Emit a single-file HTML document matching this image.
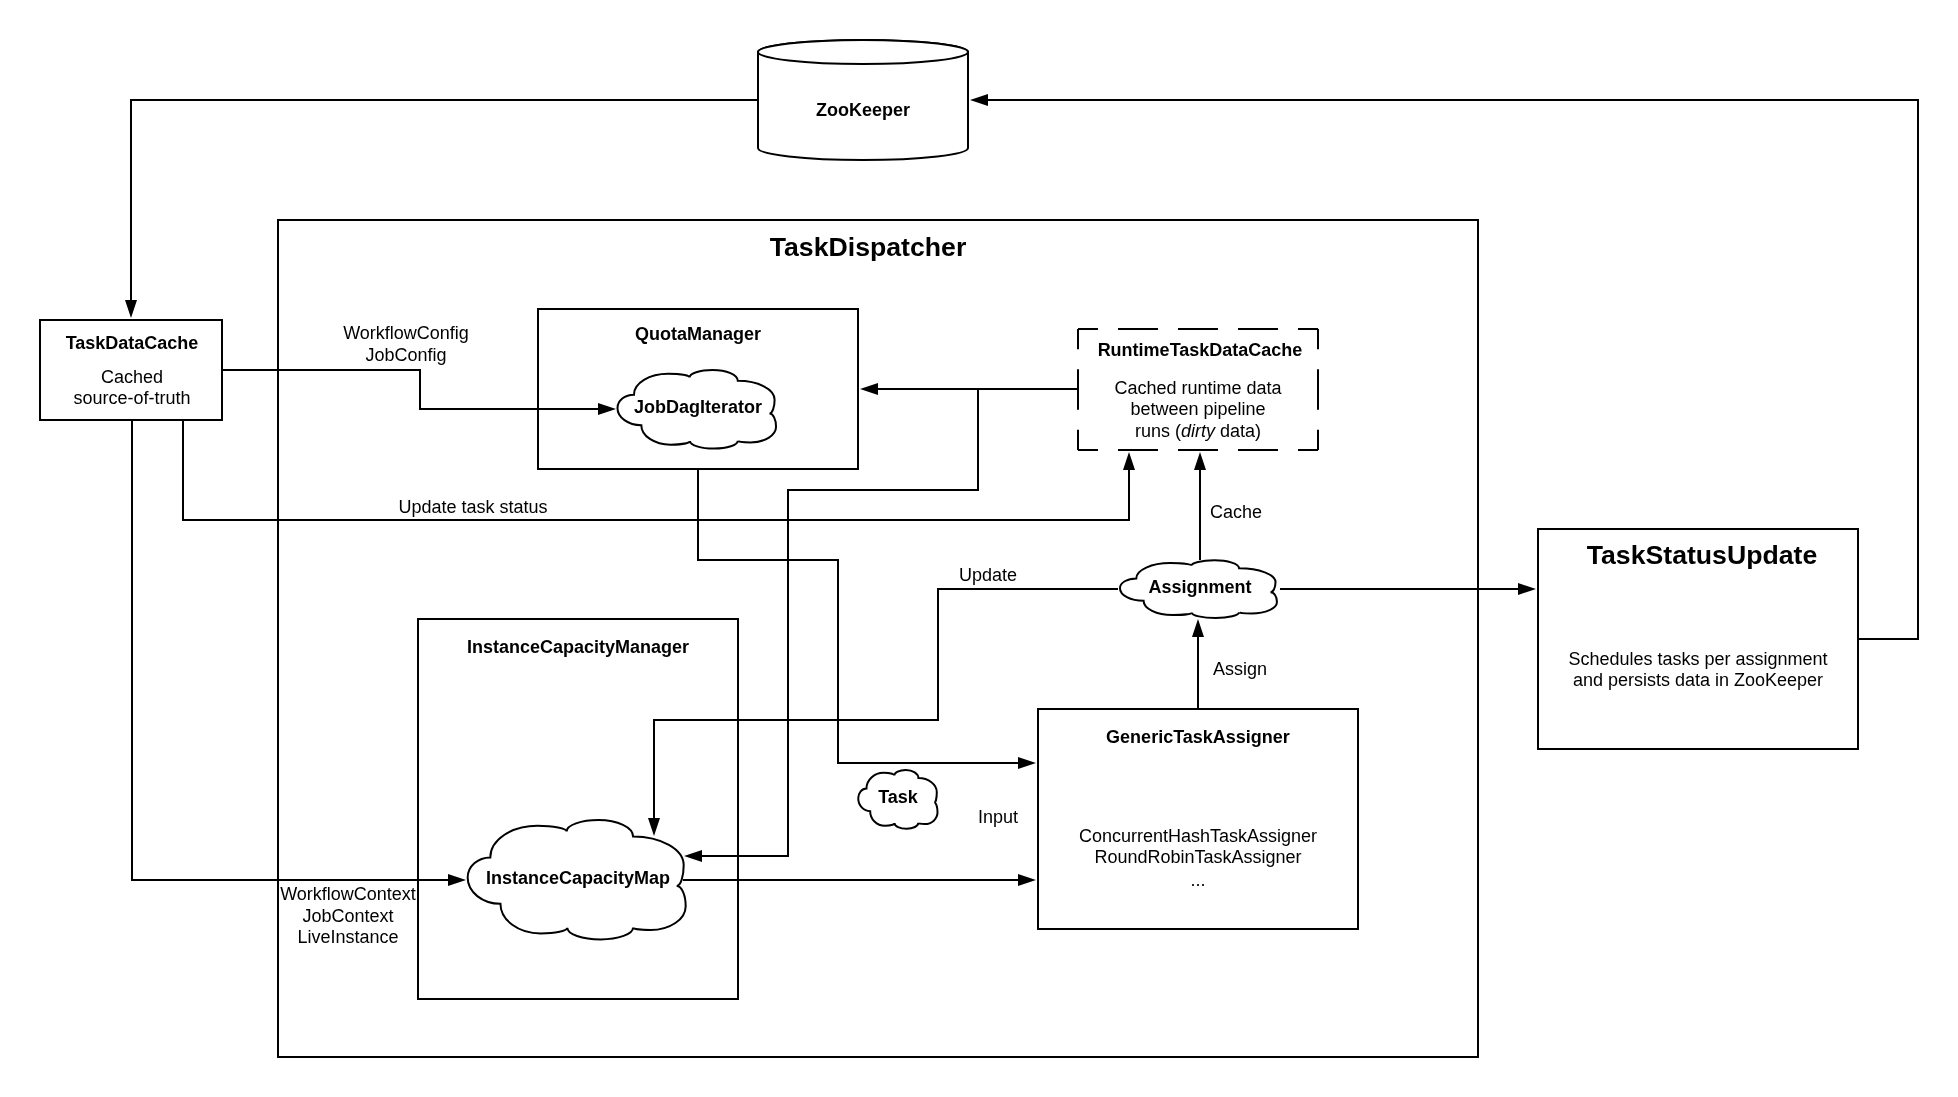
<!DOCTYPE html>
<html><head><meta charset="utf-8"><style>
html,body{margin:0;padding:0;background:#fff;width:1958px;height:1097px;overflow:hidden}
svg{display:block;font-family:"Liberation Sans",sans-serif;will-change:transform}
</style></head><body>
<svg width="1958" height="1097" viewBox="0 0 1958 1097">
<rect x="0" y="0" width="1958" height="1097" fill="#fff"/>
<rect x="278" y="220" width="1200" height="837" fill="#fff" stroke="#000" stroke-width="2"/>
<rect x="40" y="320" width="182" height="100" fill="#fff" stroke="#000" stroke-width="2"/>
<rect x="538" y="309" width="320" height="160" fill="#fff" stroke="#000" stroke-width="2"/>
<rect x="418" y="619" width="320" height="380" fill="#fff" stroke="#000" stroke-width="2"/>
<rect x="1038" y="709" width="320" height="220" fill="#fff" stroke="#000" stroke-width="2"/>
<rect x="1538" y="529" width="320" height="220" fill="#fff" stroke="#000" stroke-width="2"/>
<rect x="1078" y="329" width="240" height="121" fill="#fff" stroke="none"/><line x1="1078" y1="329" x2="1318" y2="329" stroke="#000" stroke-width="2" stroke-dasharray="40 20" stroke-dashoffset="20"/><line x1="1318" y1="329" x2="1318" y2="450" stroke="#000" stroke-width="2" stroke-dasharray="40.33 20.17" stroke-dashoffset="20.17"/><line x1="1318" y1="450" x2="1078" y2="450" stroke="#000" stroke-width="2" stroke-dasharray="40 20" stroke-dashoffset="20"/><line x1="1078" y1="450" x2="1078" y2="329" stroke="#000" stroke-width="2" stroke-dasharray="40.33 20.17" stroke-dashoffset="20.17"/>
<path d="M758 52 L758 148 A105 12 0 0 0 968 148 L968 52 A105 12 0 0 0 758 52 Z" fill="#fff" stroke="#000" stroke-width="2"/><ellipse cx="863" cy="52" rx="105" ry="12" fill="#fff" stroke="#000" stroke-width="2"/>
<path d="M758 100 L131 100 L131 302" fill="none" stroke="#000" stroke-width="2" stroke-linejoin="miter" stroke-linecap="butt"/>
<path d="M131 318 L125 300 L137 300 Z" fill="#000" stroke="none"/>
<path d="M1858 639 L1918 639 L1918 100 L986 100" fill="none" stroke="#000" stroke-width="2" stroke-linejoin="miter" stroke-linecap="butt"/>
<path d="M970 100 L988 94 L988 106 Z" fill="#000" stroke="none"/>
<path d="M222 370 L420 370 L420 409 L600 409" fill="none" stroke="#000" stroke-width="2" stroke-linejoin="miter" stroke-linecap="butt"/>
<path d="M616 409 L598 403 L598 415 Z" fill="#000" stroke="none"/>
<path d="M183 420 L183 520 L1129 520 L1129 468" fill="none" stroke="#000" stroke-width="2" stroke-linejoin="miter" stroke-linecap="butt"/>
<path d="M1129 452 L1123 470 L1135 470 Z" fill="#000" stroke="none"/>
<path d="M132 420 L132 880 L450 880" fill="none" stroke="#000" stroke-width="2" stroke-linejoin="miter" stroke-linecap="butt"/>
<path d="M466 880 L448 874 L448 886 Z" fill="#000" stroke="none"/>
<path d="M1078 389 L876 389" fill="none" stroke="#000" stroke-width="2" stroke-linejoin="miter" stroke-linecap="butt"/>
<path d="M860 389 L878 383 L878 395 Z" fill="#000" stroke="none"/>
<path d="M978 389 L978 490 L788 490 L788 856 L700 856" fill="none" stroke="#000" stroke-width="2" stroke-linejoin="miter" stroke-linecap="butt"/>
<path d="M684 856 L702 850 L702 862 Z" fill="#000" stroke="none"/>
<path d="M698 469 L698 560 L838 560 L838 763 L1020 763" fill="none" stroke="#000" stroke-width="2" stroke-linejoin="miter" stroke-linecap="butt"/>
<path d="M1036 763 L1018 757 L1018 769 Z" fill="#000" stroke="none"/>
<path d="M683 880 L1020 880" fill="none" stroke="#000" stroke-width="2" stroke-linejoin="miter" stroke-linecap="butt"/>
<path d="M1036 880 L1018 874 L1018 886 Z" fill="#000" stroke="none"/>
<path d="M1198 709 L1198 634" fill="none" stroke="#000" stroke-width="2" stroke-linejoin="miter" stroke-linecap="butt"/>
<path d="M1198 619 L1192 637 L1204 637 Z" fill="#000" stroke="none"/>
<path d="M1200 560 L1200 468" fill="none" stroke="#000" stroke-width="2" stroke-linejoin="miter" stroke-linecap="butt"/>
<path d="M1200 452 L1194 470 L1206 470 Z" fill="#000" stroke="none"/>
<path d="M1118 589 L938 589 L938 720 L654 720 L654 820" fill="none" stroke="#000" stroke-width="2" stroke-linejoin="miter" stroke-linecap="butt"/>
<path d="M654 836 L648 818 L660 818 Z" fill="#000" stroke="none"/>
<path d="M1280 589 L1520 589" fill="none" stroke="#000" stroke-width="2" stroke-linejoin="miter" stroke-linecap="butt"/>
<path d="M1536 589 L1518 583 L1518 595 Z" fill="#000" stroke="none"/>
<path d="M641.32 425.14 C628.16 425.14 617.48 417.43 617.48 407.92 C617.48 400.59 624.86 394.65 633.96 394.65 C633.96 383.14 649.3 373.79 668.2 373.79 C679.95 373.79 689.48 375.46 689.48 377.5 C689.48 373.36 699.87 370 712.68 370 C726.55 370 737.8 374.85 737.8 380.82 C758.11 380.82 774.6 389.28 774.6 399.7 C774.6 407.29 772.31 413.45 769.48 413.45 C773.1 413.45 776.04 419.4 776.04 426.72 C776.04 435.4 764.57 442.44 750.44 442.44 C743.46 442.44 737.8 441.7 737.8 440.78 C737.8 445.1 727.19 448.61 714.12 448.61 C700.78 448.61 689.96 445.17 689.96 440.94 C689.96 442.99 681.29 444.65 670.6 444.65 C654.44 444.65 641.32 435.91 641.32 425.14 Z" fill="#fff" stroke="#000" stroke-width="2" stroke-linejoin="miter"/>
<path d="M1143.58 600.78 C1130.55 600.78 1119.98 595.12 1119.98 588.14 C1119.98 582.76 1127.28 578.4 1136.29 578.4 C1136.29 569.94 1151.48 563.08 1170.19 563.08 C1181.82 563.08 1191.26 564.31 1191.26 565.81 C1191.26 562.77 1201.54 560.3 1214.22 560.3 C1227.95 560.3 1239.09 563.86 1239.09 568.25 C1259.2 568.25 1275.52 574.46 1275.52 582.11 C1275.52 587.68 1273.25 592.2 1270.46 592.2 C1274.04 592.2 1276.95 596.57 1276.95 601.94 C1276.95 608.32 1265.6 613.49 1251.61 613.49 C1244.7 613.49 1239.09 612.94 1239.09 612.27 C1239.09 615.44 1228.59 618.01 1215.65 618.01 C1202.45 618.01 1191.73 615.49 1191.73 612.38 C1191.73 613.89 1183.14 615.11 1172.56 615.11 C1156.56 615.11 1143.58 608.69 1143.58 600.78 Z" fill="#fff" stroke="#000" stroke-width="2" stroke-linejoin="miter"/>
<path d="M870.16 811.18 C863.58 811.18 858.24 805.42 858.24 798.32 C858.24 792.85 861.93 788.41 866.48 788.41 C866.48 779.81 874.15 772.83 883.6 772.83 C889.47 772.83 894.24 774.07 894.24 775.61 C894.24 772.51 899.44 770 905.84 770 C912.77 770 918.4 773.62 918.4 778.08 C928.56 778.08 936.8 784.4 936.8 792.18 C936.8 797.85 935.65 802.45 934.24 802.45 C936.05 802.45 937.52 806.89 937.52 812.36 C937.52 818.84 931.79 824.1 924.72 824.1 C921.23 824.1 918.4 823.55 918.4 822.86 C918.4 826.09 913.1 828.71 906.56 828.71 C899.89 828.71 894.48 826.14 894.48 822.98 C894.48 824.51 890.14 825.75 884.8 825.75 C876.72 825.75 870.16 819.23 870.16 811.18 Z" fill="#fff" stroke="#000" stroke-width="2" stroke-linejoin="miter"/>
<path d="M500.44 903.76 C482.35 903.76 467.66 892.04 467.66 877.6 C467.66 866.47 477.81 857.44 490.32 857.44 C490.32 839.95 511.41 825.76 537.4 825.76 C553.55 825.76 566.66 828.29 566.66 831.4 C566.66 825.11 580.95 820 598.56 820 C617.63 820 633.1 827.37 633.1 836.44 C661.03 836.44 683.7 849.29 683.7 865.12 C683.7 876.65 680.55 886 676.66 886 C681.64 886 685.68 895.03 685.68 906.16 C685.68 919.34 669.91 930.04 650.48 930.04 C640.89 930.04 633.1 928.91 633.1 927.52 C633.1 934.08 618.51 939.4 600.54 939.4 C582.2 939.4 567.32 934.19 567.32 927.76 C567.32 930.87 555.39 933.4 540.7 933.4 C518.48 933.4 500.44 920.12 500.44 903.76 Z" fill="#fff" stroke="#000" stroke-width="2" stroke-linejoin="miter"/>
<text x="863" y="116" font-size="18" font-weight="bold" text-anchor="middle">ZooKeeper</text>
<text x="868" y="255.5" font-size="26.67" font-weight="bold" text-anchor="middle">TaskDispatcher</text>
<text x="132" y="348.5" font-size="18" font-weight="bold" text-anchor="middle">TaskDataCache</text>
<text x="132" y="383" font-size="18"  text-anchor="middle">Cached</text>
<text x="132" y="404" font-size="18"  text-anchor="middle">source-of-truth</text>
<text x="406" y="339" font-size="18"  text-anchor="middle">WorkflowConfig</text>
<text x="406" y="361" font-size="18"  text-anchor="middle">JobConfig</text>
<text x="698" y="340" font-size="18" font-weight="bold" text-anchor="middle">QuotaManager</text>
<text x="698" y="413" font-size="18" font-weight="bold" text-anchor="middle">JobDagIterator</text>
<text x="1200" y="356" font-size="18" font-weight="bold" text-anchor="middle">RuntimeTaskDataCache</text>
<text x="1198" y="394" font-size="18"  text-anchor="middle">Cached runtime data</text>
<text x="1198" y="415" font-size="18"  text-anchor="middle">between pipeline</text>
<text x="1198" y="437" font-size="18"  text-anchor="middle">runs (<tspan font-style="italic">dirty</tspan> data)</text>
<text x="473" y="513" font-size="18"  text-anchor="middle">Update task status</text>
<text x="1236" y="518" font-size="18"  text-anchor="middle">Cache</text>
<text x="988" y="581" font-size="18"  text-anchor="middle">Update</text>
<text x="1200" y="593" font-size="18" font-weight="bold" text-anchor="middle">Assignment</text>
<text x="1240" y="675" font-size="18"  text-anchor="middle">Assign</text>
<text x="1702" y="564" font-size="26.67" font-weight="bold" text-anchor="middle">TaskStatusUpdate</text>
<text x="1698" y="665" font-size="18"  text-anchor="middle">Schedules tasks per assignment</text>
<text x="1698" y="686" font-size="18"  text-anchor="middle">and persists data in ZooKeeper</text>
<text x="578" y="653" font-size="18" font-weight="bold" text-anchor="middle">InstanceCapacityManager</text>
<text x="1198" y="743" font-size="18" font-weight="bold" text-anchor="middle">GenericTaskAssigner</text>
<text x="898" y="802.5" font-size="18" font-weight="bold" text-anchor="middle">Task</text>
<text x="998" y="823" font-size="18"  text-anchor="middle">Input</text>
<text x="1198" y="841.5" font-size="18"  text-anchor="middle">ConcurrentHashTaskAssigner</text>
<text x="1198" y="863" font-size="18"  text-anchor="middle">RoundRobinTaskAssigner</text>
<text x="1198" y="885.5" font-size="18"  text-anchor="middle">...</text>
<text x="578" y="884" font-size="18" font-weight="bold" text-anchor="middle">InstanceCapacityMap</text>
<text x="348" y="900" font-size="18"  text-anchor="middle">WorkflowContext</text>
<text x="348" y="921.5" font-size="18"  text-anchor="middle">JobContext</text>
<text x="348" y="943" font-size="18"  text-anchor="middle">LiveInstance</text>
</svg></body></html>
